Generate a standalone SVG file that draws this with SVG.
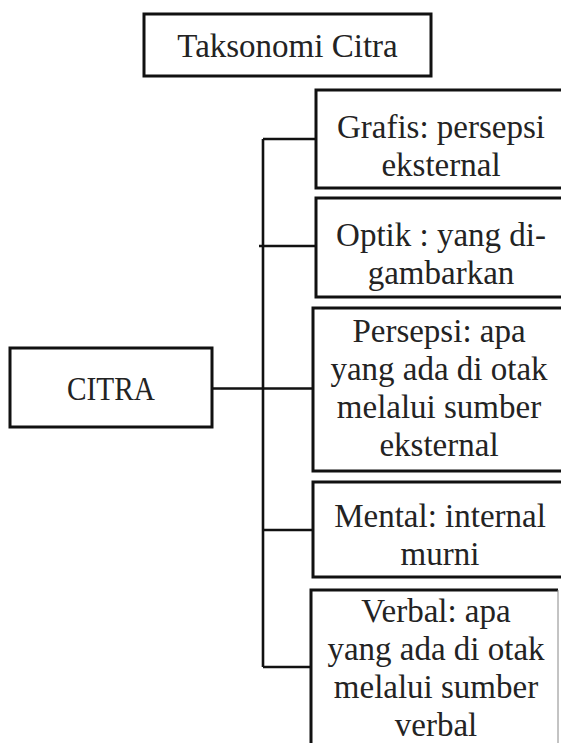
<svg xmlns="http://www.w3.org/2000/svg" width="561" height="743" viewBox="0 0 561 743">
<style>
.box{fill:#fff;stroke:#111;stroke-width:3}
.t{font-family:"Liberation Serif",serif;font-size:33px;fill:#232323;text-anchor:middle}
.c{stroke:#111;stroke-width:2.6;fill:none}
</style>
<rect width="561" height="743" fill="#fff"/>
<g id="connectors">
<line class="c" x1="263" y1="139" x2="263" y2="667"/>
<line class="c" x1="263" y1="139" x2="316" y2="139"/>
<line class="c" x1="259" y1="246" x2="316" y2="246"/>
<line class="c" x1="212" y1="388.5" x2="313" y2="388.5"/>
<line class="c" x1="263" y1="530" x2="313" y2="530"/>
<line class="c" x1="263" y1="667" x2="311" y2="667"/>
</g>
<g id="title">
<rect class="box" x="144" y="14" width="287" height="62"/>
<text class="t" x="287.5" y="57">Taksonomi Citra</text>
</g>
<g id="citra">
<rect class="box" x="10" y="348" width="202" height="79"/>
<text class="t" x="111" y="400" textLength="88" lengthAdjust="spacingAndGlyphs">CITRA</text>
</g>
<g id="grafis">
<rect class="box" x="316" y="90" width="260" height="98"/>
<text class="t" x="441" y="138">Grafis: persepsi</text>
<text class="t" x="441" y="176">eksternal</text>
</g>
<g id="optik">
<rect class="box" x="316" y="198" width="260" height="99"/>
<text class="t" x="441" y="246">Optik : yang di-</text>
<text class="t" x="441" y="284">gambarkan</text>
</g>
<g id="persepsi">
<rect class="box" x="313" y="308" width="263" height="163"/>
<text class="t" x="439" y="342">Persepsi: apa</text>
<text class="t" x="439" y="380">yang ada di otak</text>
<text class="t" x="439" y="418">melalui sumber</text>
<text class="t" x="439" y="456">eksternal</text>
</g>
<g id="mental">
<rect class="box" x="313" y="482" width="263" height="95"/>
<text class="t" x="440" y="527">Mental: internal</text>
<text class="t" x="440" y="565">murni</text>
</g>
<g id="verbal">
<path d="M311 760 V590 H558" fill="#fff" stroke="#111" stroke-width="3"/>
<line x1="558" y1="590" x2="558" y2="760" stroke="#888" stroke-width="1"/>
<text class="t" x="436" y="622">Verbal: apa</text>
<text class="t" x="436" y="660">yang ada di otak</text>
<text class="t" x="436" y="698">melalui sumber</text>
<text class="t" x="436" y="736">verbal</text>
</g>
</svg>
